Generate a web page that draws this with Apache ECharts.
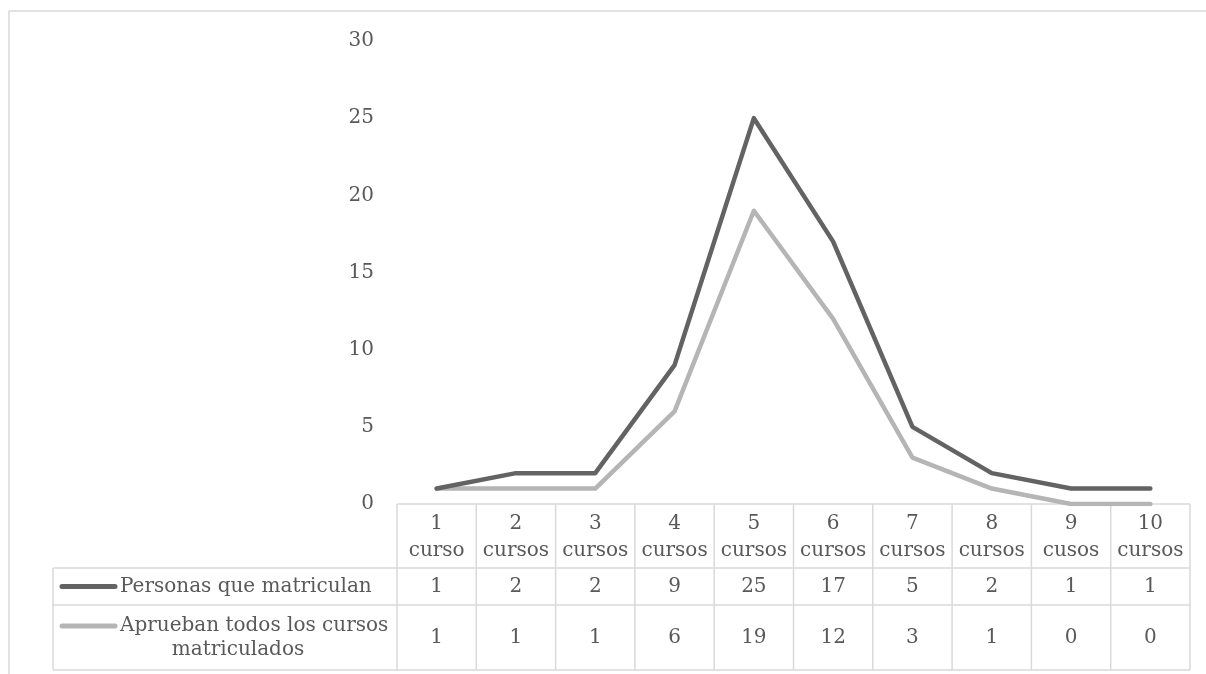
<!DOCTYPE html>
<html>
<head>
<meta charset="utf-8">
<script src="https://cdn.jsdelivr.net/npm/echarts@6/dist/echarts.min.js"></script>
<style>html,body{margin:0;padding:0;background:#fff;}#c{width:1206px;height:674px;}</style>
</head>
<body>
<div id="c"></div>
<script>
const categories = ['1\ncurso','2\ncursos','3\ncursos','4\ncursos','5\ncursos','6\ncursos','7\ncursos','8\ncursos','9\ncusos','10\ncursos'];
const seriesNames = ['Personas que matriculan', 'Aprueban todos los cursos\nmatriculados'];
const personas = [1,2,2,9,25,17,5,2,1,1];
const aprueban = [1,1,1,6,19,12,3,1,0,0];
const yMin = 0, yMax = 30, yInterval = 5;

const FONT = '"DejaVu Serif", serif';
const TXT = '#595959';
const GRIDC = '#d9d9d9';
const colors = ['#636363', '#b5b5b5'];

const chart = echarts.init(document.getElementById('c'));
chart.setOption({
  animation: false,
  backgroundColor: '#fff',
  grid: { left: 397, right: 16, top: 41, bottom: 170, containLabel: false },
  xAxis: {
    type: 'category', data: categories, boundaryGap: true,
    axisLine: { show: false }, axisTick: { show: false }, axisLabel: { show: false }, splitLine: { show: false }
  },
  yAxis: {
    type: 'value', min: yMin, max: yMax, interval: yInterval,
    axisLine: { show: false }, axisTick: { show: false }, splitLine: { show: false },
    axisLabel: { color: TXT, fontFamily: FONT, fontSize: 20, margin: 23 }
  },
  series: [
    { name: seriesNames[0], type: 'line', data: personas, showSymbol: false, symbol: 'none', z: 5,
      lineStyle: { color: colors[0], width: 4.5, cap: 'round', join: 'round' } },
    { name: seriesNames[1], type: 'line', data: aprueban, showSymbol: false, symbol: 'none', z: 4,
      lineStyle: { color: colors[1], width: 4.5, cap: 'round', join: 'round' } }
  ]
});

// Table drawn from the category axis scale
const c0 = chart.convertToPixel({ xAxisIndex: 0 }, 0);
const c1 = chart.convertToPixel({ xAxisIndex: 0 }, 1);
const cw = c1 - c0;
const tableLeft = c0 - cw / 2;
const tableRight = tableLeft + cw * categories.length;
const yTop = chart.convertToPixel({ yAxisIndex: 0 }, 0);
const rowH = [64, 37, 65];
const r1 = yTop + rowH[0], r2 = r1 + rowH[1], r3 = r2 + rowH[2];
const legLeft = 53;

const els = [];
function line(x1, y1, x2, y2) {
  els.push({ type: 'line', z: 1, shape: { x1, y1, x2, y2 }, style: { stroke: GRIDC, lineWidth: 1.5 } });
}
function text(t, x, y, align, lh) {
  els.push({ type: 'text', z: 3, x, y, style: { text: t, align: align || 'center', verticalAlign: 'middle', font: '20px ' + FONT, fill: TXT, lineHeight: lh || 27 } });
}
// outer border
line(9, 11, 1206, 11);
line(9, 11, 9, 674);
// horizontal table lines
line(tableLeft, yTop, tableRight, yTop);
line(legLeft, r1, tableRight, r1);
line(legLeft, r2, tableRight, r2);
line(legLeft, r3, tableRight, r3);
// vertical lines
line(legLeft, r1, legLeft, r3);
for (let i = 0; i <= categories.length; i++) {
  const x = tableLeft + cw * i;
  line(x, yTop, x, r3);
}
// cells
categories.forEach((cat, i) => {
  const x = chart.convertToPixel({ xAxisIndex: 0 }, i);
  text(cat, x, yTop + rowH[0] / 2 + 1, 'center', 27);
  text(String(personas[i]), x, (r1 + r2) / 2, 'center');
  text(String(aprueban[i]), x, (r2 + r3) / 2, 'center');
});
// legend cells
const ly1 = (r1 + r2) / 2;
els.push({ type: 'line', z: 3, shape: { x1: 62, y1: ly1, x2: 115, y2: ly1 }, style: { stroke: colors[0], lineWidth: 5, lineCap: 'round' } });
text(seriesNames[0], 120, ly1, 'left');
const ly2 = r2 + 21;
els.push({ type: 'line', z: 3, shape: { x1: 62, y1: ly2, x2: 115, y2: ly2 }, style: { stroke: colors[1], lineWidth: 5, lineCap: 'round' } });
const parts = seriesNames[1].split('\n');
text(parts[0], 120, ly2, 'left');
text(parts[1], 238, ly2 + 24, 'center');

chart.setOption({ graphic: { elements: els } });
</script>
</body>
</html>
